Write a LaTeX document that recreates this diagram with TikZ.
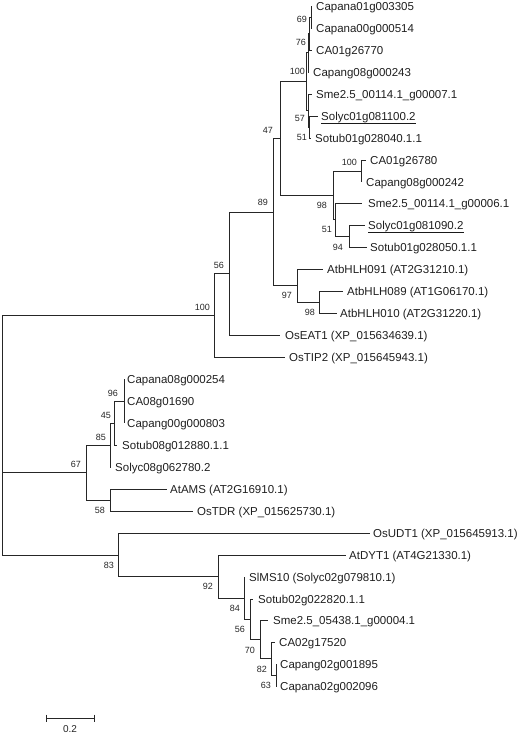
\documentclass[tikz,border=0pt]{standalone}
\usepackage{fontspec}
\setmainfont{Liberation Sans}
\newcommand\leafnode[5]{\coordinate (t#1) at (#2,#4); \node[lf] (l#1) at (#3,#4) {#5};}
\newcommand\bsl[3]{\node[bs] at (#1,#2) {#3};}
\begin{document}
\begin{tikzpicture}[x=1pt,y=-1pt,
  br/.style={line width=1pt, draw=black!85},
  lf/.style={anchor=west, inner sep=0pt, font=\fontsize{11.5}{12}\selectfont, text height=8.2pt, text depth=0pt, text=black!88},
  bs/.style={anchor=east, inner sep=0pt, font=\fontsize{9}{10}\selectfont, text height=6.4pt, text depth=0pt, text=black!85},
  ul/.style={line width=1.3pt, draw=black!90}]
\useasboundingbox (0,0) rectangle (520,734);
% leaves
\leafnode{0}{312}{316}{6}{Capana01g003305}
\leafnode{1}{312}{316}{28}{Capana00g000514}
\leafnode{2}{312}{316}{50}{CA01g26770}
\leafnode{3}{309}{313}{72}{Capang08g000243}
\leafnode{4}{312}{316}{94}{Sme2.5\_00114.1\_g00007.1}
\leafnode{5}{318}{321}{116}{Solyc01g081100.2}
\leafnode{6}{311}{315}{138}{Sotub01g028040.1.1}
\leafnode{7}{366}{370}{160}{CA01g26780}
\leafnode{8}{361}{366}{182}{Capang08g000242}
\leafnode{9}{362}{368}{203}{Sme2.5\_00114.1\_g00006.1}
\leafnode{10}{365}{368}{225}{Solyc01g081090.2}
\leafnode{11}{367}{370}{247}{Sotub01g028050.1.1}
\leafnode{12}{323}{327}{269}{AtbHLH091 (AT2G31210.1)}
\leafnode{13}{343}{347}{291}{AtbHLH089 (AT1G06170.1)}
\leafnode{14}{337}{340}{313}{AtbHLH010 (AT2G31220.1)}
\leafnode{15}{280}{285}{335}{OsEAT1 (XP\_015634639.1)}
\leafnode{16}{285}{289}{357}{OsTIP2 (XP\_015645943.1)}
\leafnode{17}{124}{127}{379}{Capana08g000254}
\leafnode{18}{124}{127}{401}{CA08g01690}
\leafnode{19}{124}{127}{423}{Capang00g000803}
\leafnode{20}{117}{122}{445}{Sotub08g012880.1.1}
\leafnode{21}{111}{115}{467}{Solyc08g062780.2}
\leafnode{22}{167}{170}{489}{AtAMS (AT2G16910.1)}
\leafnode{23}{193}{197}{511}{OsTDR (XP\_015625730.1)}
\leafnode{24}{370}{373}{533}{OsUDT1 (XP\_015645913.1)}
\leafnode{25}{346}{349}{555}{AtDYT1 (AT4G21330.1)}
\leafnode{26}{245}{249}{577}{SlMS10 (Solyc02g079810.1)}
\leafnode{27}{253}{258}{599}{Sotub02g022820.1.1}
\leafnode{28}{268}{273}{620}{Sme2.5\_05438.1\_g00004.1}
\leafnode{29}{275}{279}{642}{CA02g17520}
\leafnode{30}{277}{280}{664}{Capang02g001895}
\leafnode{31}{277}{280}{686}{Capana02g002096}
% underlines
\draw[ul] ([yshift=-3.5pt]l5.south west) -- ([yshift=-3.5pt]l5.south east);
\draw[ul] ([yshift=-3.5pt]l10.south west) -- ([yshift=-3.5pt]l10.south east);
% internal nodes
\coordinate (n69) at (311,17);
\coordinate (n76) at (309,33.5);
\coordinate (nX) at (308,52.75);
\coordinate (n51a) at (309,127);
\coordinate (n57) at (308,110.5);
\coordinate (n100a) at (306,81.6);
\coordinate (n100b) at (361,171);
\coordinate (n94) at (349,236);
\coordinate (n51b) at (335,219.5);
\coordinate (n98a) at (333,195);
\coordinate (n47) at (280,138.3);
\coordinate (n98b) at (319,302);
\coordinate (n97) at (297,285.5);
\coordinate (n89) at (273,212);
\coordinate (n56) at (229,273.5);
\coordinate (n100c) at (214,315);
\coordinate (n96) at (124,401);
\coordinate (n45) at (114,423);
\coordinate (n85) at (110,445);
\coordinate (n58) at (110,500);
\coordinate (n67) at (86,472.5);
\coordinate (n63) at (276,675);
\coordinate (n82) at (271,658.5);
\coordinate (n70) at (260,639);
\coordinate (n56b) at (250,619);
\coordinate (n84) at (244,598);
\coordinate (n92) at (218,576.5);
\coordinate (n83) at (118,555);
\coordinate (root) at (2,435);
% branches
\draw[br] (n69) |- (t0); \draw[br] (n69) |- (t1);
\draw[br] (n76) |- (n69); \draw[br] (n76) |- (t2);
\draw[br] (nX) |- (n76); \draw[br] (nX) |- (t3);
\draw[br] (n51a) |- (t5); \draw[br] (n51a) |- (t6);
\draw[br] (n57) |- (t4); \draw[br] (n57) |- (n51a);
\draw[br] (n100a) |- (nX); \draw[br] (n100a) |- (n57);
\draw[br] (n100b) |- (t7); \draw[br] (n100b) |- (t8);
\draw[br] (n94) |- (t10); \draw[br] (n94) |- (t11);
\draw[br] (n51b) |- (t9); \draw[br] (n51b) |- (n94);
\draw[br] (n98a) |- (n100b); \draw[br] (n98a) |- (n51b);
\draw[br] (n47) |- (n100a); \draw[br] (n47) |- (n98a);
\draw[br] (n98b) |- (t13); \draw[br] (n98b) |- (t14);
\draw[br] (n97) |- (t12); \draw[br] (n97) |- (n98b);
\draw[br] (n89) |- (n47); \draw[br] (n89) |- (n97);
\draw[br] (n56) |- (n89); \draw[br] (n56) |- (t15);
\draw[br] (n100c) |- (n56); \draw[br] (n100c) |- (t16);
\draw[br] (n96) |- (t17); \draw[br] (n96) |- (t18); \draw[br] (n96) |- (t19);
\draw[br] (n45) |- (n96); \draw[br] (n45) |- (t20);
\draw[br] (n85) |- (n45); \draw[br] (n85) |- (t21);
\draw[br] (n58) |- (t22); \draw[br] (n58) |- (t23);
\draw[br] (n67) |- (n85); \draw[br] (n67) |- (n58);
\draw[br] (n63) |- (t30); \draw[br] (n63) |- (t31);
\draw[br] (n82) |- (t29); \draw[br] (n82) |- (n63);
\draw[br] (n70) |- (t28); \draw[br] (n70) |- (n82);
\draw[br] (n56b) |- (t27); \draw[br] (n56b) |- (n70);
\draw[br] (n84) |- (t26); \draw[br] (n84) |- (n56b);
\draw[br] (n92) |- (t25); \draw[br] (n92) |- (n84);
\draw[br] (n83) |- (t24); \draw[br] (n83) |- (n92);
\draw[br] (root) |- (n100c); \draw[br] (root) |- (n67); \draw[br] (root) |- (n83);
% bootstrap values
\bsl{307}{19}{69}
\bsl{306}{42}{76}
\bsl{305}{71}{100}
\bsl{305}{118}{57}
\bsl{307}{137}{51}
\bsl{273}{130}{47}
\bsl{268}{202}{89}
\bsl{357}{162}{100}
\bsl{327}{205}{98}
\bsl{332}{229}{51}
\bsl{343}{247}{94}
\bsl{292}{295}{97}
\bsl{315}{312}{98}
\bsl{224}{265}{56}
\bsl{210}{307}{100}
\bsl{118}{393}{96}
\bsl{111}{415}{45}
\bsl{106}{437}{85}
\bsl{81}{464}{67}
\bsl{105}{510}{58}
\bsl{114}{565}{83}
\bsl{213}{586}{92}
\bsl{240}{608}{84}
\bsl{245}{629}{56}
\bsl{255}{650}{70}
\bsl{267}{669}{82}
\bsl{271}{685}{63}
% scale bar
\coordinate (s1) at (46,718);
\coordinate (s2) at (94,718);
\draw[br] (s1) -- (s2);
\draw[br] ([yshift=3.5pt]s1) -- ([yshift=-3.5pt]s1);
\draw[br] ([yshift=3.5pt]s2) -- ([yshift=-3.5pt]s2);
\node[font=\fontsize{10}{11}\selectfont, inner sep=0pt, text height=7pt, text depth=0pt, text=black!85] (sl) at (70,728.5) {0.2};
\end{tikzpicture}
\end{document}
